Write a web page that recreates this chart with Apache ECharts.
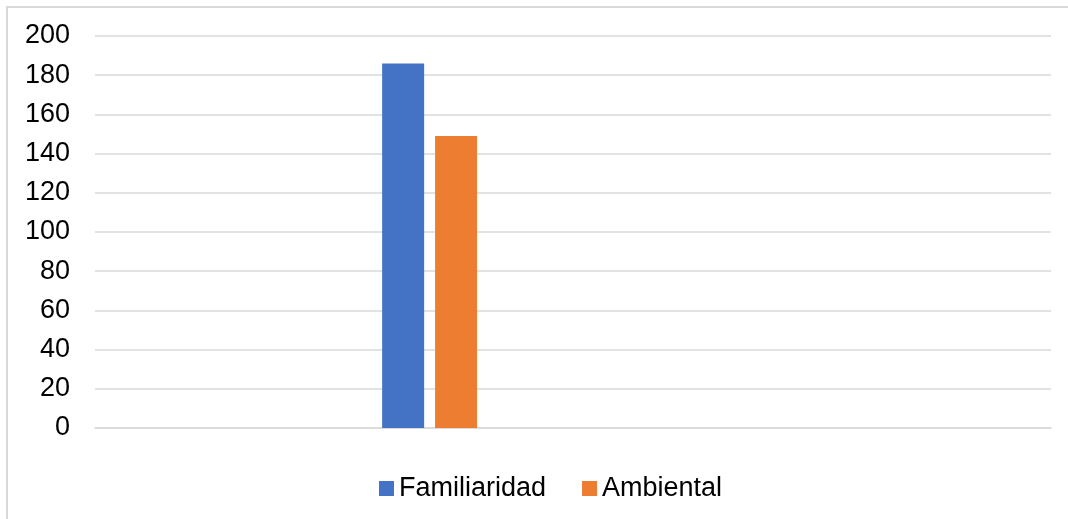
<!DOCTYPE html>
<html>
<head>
<meta charset="utf-8">
<script src="https://cdn.jsdelivr.net/npm/echarts@6/dist/echarts.min.js"></script>
<style>
  html, body { margin: 0; padding: 0; background: #fff; }
  #chart { width: 1068px; height: 519px; }
</style>
</head>
<body>
<div id="chart"></div>
<script>
// Category slots along the horizontal axis; only one slot carries values.
const categories = ['', '', '', '', '', '', '', '', '', ''];
const familiaridad = [null, null, null, 186, null, null, null, null, null, null];
const ambiental = [null, null, null, 149, null, null, null, null, null, null];
const seriesNames = ['Familiaridad', 'Ambiental'];
const yTicks = { min: 0, max: 200, interval: 20 };

const FONT = 'Liberation Sans, Arial, sans-serif';
const chart = echarts.init(document.getElementById('chart'), null, { renderer: 'canvas' });

chart.setOption({
  animation: false,
  backgroundColor: '#ffffff',
  graphic: [{
    type: 'rect',
    shape: { x: 7, y: 7, width: 1080, height: 530 },
    style: { fill: 'none', stroke: '#d9d9d9', lineWidth: 2 },
    silent: true
  }],
  grid: { left: 95, right: 17, top: 36, bottom: 91, containLabel: false },
  legend: {
    left: 374,
    top: 470,
    itemWidth: 15,
    itemHeight: 15,
    itemGap: 36,
    icon: 'rect',
    textStyle: { fontFamily: FONT, fontSize: 27, color: '#000' },
    data: seriesNames
  },
  xAxis: {
    type: 'category',
    data: categories,
    axisLine: { show: true, lineStyle: { color: '#d9d9d9', width: 1.5 } },
    axisTick: { show: false },
    axisLabel: { show: false },
    splitLine: { show: false }
  },
  yAxis: {
    type: 'value',
    min: yTicks.min,
    max: yTicks.max,
    interval: yTicks.interval,
    axisLine: { show: false },
    axisTick: { show: false },
    axisLabel: { fontFamily: FONT, fontSize: 27, color: '#000', margin: 25, padding: [4, 0, 0, 0] },
    splitLine: { lineStyle: { color: '#d9d9d9', width: 1.5 } }
  },
  series: [
    {
      name: seriesNames[0],
      type: 'bar',
      data: familiaridad,
      barWidth: 42,
      barGap: '26%',
      itemStyle: { color: '#4472c4' }
    },
    {
      name: seriesNames[1],
      type: 'bar',
      data: ambiental,
      barWidth: 42,
      itemStyle: { color: '#ed7d31' }
    }
  ]
});
</script>
</body>
</html>
